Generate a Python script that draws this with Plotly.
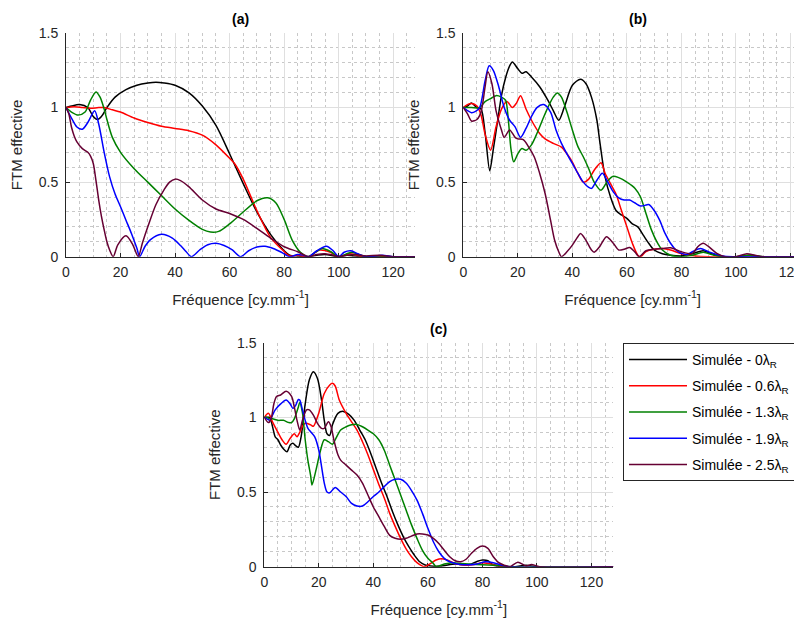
import plotly.graph_objects as go

# ---------------- data ----------------
xticks = [0, 20, 40, 60, 80, 100, 120]
yticks = [0, 0.5, 1, 1.5]
yticktext = ["0", "0.5", "1", "1.5"]
series_names = ["Simulée - 0λ<sub>R</sub>", "Simulée - 0.6λ<sub>R</sub>", "Simulée - 1.3λ<sub>R</sub>",
                "Simulée - 1.9λ<sub>R</sub>", "Simulée - 2.5λ<sub>R</sub>"]
series_colors = ["#000000", "#ff0000", "#008000", "#0000ff", "#660033"]
panel_titles = ["(a)", "(b)", "(c)"]

# panel (a)
a_k_x = [0,2,5,8,10,11.5,13,15,18,22,26,30,33,36,40,45,50,55,60,65,70,75,80,82,85,88.5,92,95,100,103,106,110,115,120,128]
a_k_y = [1,1.01,1.02,1.0,0.94,0.92,0.94,1.0,1.07,1.12,1.15,1.165,1.17,1.165,1.15,1.10,1.01,0.88,0.69,0.49,0.30,0.15,0.04,0.01,0.005,0,0.01,0.015,0,0.01,0.005,0,0.005,0,0]
a_r_x = [0,3,6,9,12,14,17,20,25,30,35,40,45,50,55,60,62,65,70,75,80,82,85,89,93,97,100,104,108,112,128]
a_r_y = [1,1.005,1.0,0.995,1.0,1.0,0.985,0.97,0.93,0.90,0.875,0.86,0.845,0.815,0.75,0.66,0.62,0.52,0.31,0.13,0.035,0.005,0.01,0,0.045,0.03,0,0.02,0.005,0,0]
a_g_x = [0,2,4.5,7,9,11,12.5,14,15,17,20,25,30,35,40,45,50,53,56,60,65,70,74,77,80,83,86,89,91.5,94,97,100,103,105,108,111,128]
a_g_y = [1,0.97,0.95,0.97,1.05,1.105,1.07,0.99,0.92,0.80,0.70,0.59,0.50,0.41,0.32,0.245,0.183,0.165,0.17,0.22,0.30,0.375,0.395,0.36,0.25,0.11,0.03,0,0.03,0.055,0.035,0,0.02,0.03,0.01,0,0]
a_b_x = [0,2,4,6,8,10.5,12,14,16,18,20,22,24,26,27,29,31,35,39,42,44,46,49,52,55,58,61,64,67,70,73,76,79,82,85,87,89,92,95.5,98,100,102,104.5,107,110,116,120,128]
a_b_y = [1,0.93,0.87,0.855,0.9,0.978,0.89,0.70,0.535,0.42,0.335,0.245,0.156,0.056,0,0.07,0.115,0.15,0.125,0.075,0.035,0,0.045,0.08,0.09,0.075,0.045,0,0.04,0.065,0.07,0.055,0.03,0,0.015,0.01,0,0.04,0.07,0.04,0,0.03,0.04,0.02,0,0.01,0,0]
a_p_x = [0,1,2,3,4,6,8,9,10,11,12,13,14,15,16,17.3,19,22,24.5,26.5,28,30,33,36,38,40,42,45,50,55,60,65,70,75,80,85,89,92,95,98,100,103,106,110,115,120,128]
a_p_y = [1,0.96,0.87,0.81,0.77,0.725,0.70,0.675,0.625,0.51,0.38,0.27,0.18,0.10,0.045,0,0.08,0.14,0.08,0,0.09,0.20,0.35,0.45,0.50,0.52,0.51,0.47,0.38,0.32,0.29,0.25,0.19,0.125,0.067,0.033,0,0.015,0.02,0.01,0,0.01,0.015,0.005,0.01,0,0]

# panel (b)
b_k_x = [0,1.5,3,5,6.5,8,9.7,11,12.5,14,15.5,17,18,20,21.5,23,25,28,31,33,35,37,40,43,45,47,49,50,52,54,56,58,60,62,64,66,68,70,73,76,80,84,88,91,95,100,105,110,128]
b_k_y = [1,1.01,1.03,1.0,0.99,0.83,0.576,0.72,0.9,1.08,1.2,1.28,1.306,1.26,1.23,1.24,1.205,1.14,1.05,0.98,0.915,1.0,1.15,1.19,1.16,1.07,0.915,0.78,0.535,0.40,0.31,0.28,0.257,0.22,0.20,0.145,0.09,0.045,0.02,0.01,0.005,0.02,0.04,0.02,0.0,0.0,0.01,0,0]
b_r_x = [0,1.5,3,5,6.5,8,10,12,14,16,18,19.5,21,23,25,28,30,33,36,38,40,42,44,46,48,50.5,52,54,56,58,60,62,64,65,67,70,73,76,80,85,90,128]
b_r_y = [1,1.02,1.027,1.01,0.95,0.82,0.714,0.87,0.99,1.04,1.0,1.03,1.08,0.99,0.915,0.826,0.79,0.76,0.735,0.69,0.635,0.56,0.50,0.52,0.58,0.63,0.56,0.49,0.42,0.31,0.20,0.09,0.01,0,0.035,0.05,0.055,0.045,0.02,0.005,0,0]
b_g_x = [0,3,6,8,10,12,14,15.5,16.5,17.5,18.5,20,21.5,23,25,27,29,31,33,34.5,36,38,40,42,44,46,48,50.5,53,55,57,60,63,65,67,69,71,73,76,80,84,88,92,96,100,105,110,128]
b_g_y = [1,1.0,1.0,1.04,1.06,1.08,1.07,1.05,0.92,0.72,0.636,0.69,0.725,0.714,0.75,0.826,0.915,1.0,1.07,1.098,1.07,0.97,0.85,0.74,0.67,0.59,0.50,0.446,0.51,0.54,0.53,0.50,0.458,0.40,0.29,0.18,0.10,0.045,0.01,0.0,0.01,0.03,0.01,0,0,0.01,0,0]
b_b_x = [0,1.5,3,4.5,6,8,9.5,11,13,15,17,19,21,23,25,27,29.5,32,34,36,38,40,42,44,46,47,49,51,53,55,57,59,61,63,65,67,68,70,72,74,76,78,80,82,84,87,90,95,100,128]
b_b_y = [1,0.98,0.966,0.975,1.0,1.18,1.28,1.25,1.14,1.0,0.915,0.87,0.80,0.86,0.94,1.0,1.02,0.97,0.85,0.76,0.69,0.625,0.56,0.50,0.465,0.458,0.513,0.56,0.50,0.435,0.395,0.38,0.38,0.36,0.34,0.346,0.35,0.31,0.245,0.156,0.09,0.045,0.022,0.015,0.033,0.055,0.033,0.005,0,0]
b_p_x = [0,1.5,3,5,6.5,8,9,10.5,12,14,15,17,19,20,22,24,26,28,30,32,33.5,35,36,38,40,42,43,45,47,48,50,52.5,55,57,59,61,63,64.5,67,70,73,76,80,84,86,88,90,93,96,100,104,107,110,128]
b_p_y = [1,0.96,0.91,0.92,0.97,1.14,1.24,1.16,0.98,0.85,0.80,0.85,0.80,0.79,0.785,0.735,0.67,0.56,0.424,0.245,0.11,0.033,0,0.033,0.078,0.134,0.156,0.11,0.045,0.03,0.067,0.134,0.09,0.045,0.05,0.062,0.03,0,0.04,0.05,0.055,0.06,0.033,0.022,0.067,0.09,0.067,0.022,0,0,0.02,0.01,0,0]

# panel (c)
c_k_x = [0,1,2,3,4,5,6,7,8.3,9.5,10.5,11.5,12.5,13.5,15,16.5,18,19.5,21,22,23,24,25,27,29,31,33,35,37,39,41,43,45,47,49,51,53,55,57,59,61,65,70,75,78,80,82,84,88,92,96,100,128]
c_k_y = [1,1.0,1.0,0.94,0.87,0.85,0.815,0.79,0.77,0.815,0.826,0.81,0.80,0.87,1.09,1.25,1.306,1.26,1.116,0.98,0.89,0.88,0.95,1.027,1.04,1.02,0.98,0.915,0.85,0.76,0.66,0.56,0.47,0.37,0.28,0.20,0.134,0.078,0.033,0.011,0.005,0.005,0.018,0.013,0.035,0.045,0.04,0.01,0,0,0.01,0,0]
c_r_x = [0,1.5,3,5,6.5,8,9.5,11,12,13,14,15,17,18,20,22,24,25,26,27.5,30,32,34,36,38,40,42,44,46,48,50,52,54,56,58,59,61,63,65,67,70,74,77,80,83,88,128]
c_r_y = [1,1.027,0.97,0.90,0.85,0.82,0.86,0.89,0.87,0.90,0.94,0.96,0.95,0.94,1.03,1.16,1.217,1.228,1.21,1.116,1.027,0.97,0.915,0.837,0.75,0.65,0.55,0.46,0.357,0.27,0.19,0.12,0.067,0.027,0.004,0,0.022,0.045,0.054,0.045,0.022,0.01,0.015,0.027,0.018,0,0]
c_g_x = [0,1,2,3,5,7,9,10,11,12.5,13,14,15,16,17,17.5,19,20.5,22,23.5,25,26,28,30,32,34,36,38,40,42,44,46,48,50,52,54,56,58,60,62,63,66,69,72,75,80,85,90,128]
c_g_y = [1,1.0,0.99,0.99,0.98,0.98,0.965,0.965,0.99,1.07,1.10,1.03,0.85,0.71,0.61,0.547,0.65,0.77,0.85,0.837,0.82,0.85,0.915,0.937,0.95,0.953,0.937,0.915,0.89,0.85,0.78,0.68,0.58,0.48,0.38,0.28,0.19,0.11,0.056,0.022,0,0.018,0.027,0.022,0.018,0.013,0.01,0,0]
c_b_x = [0,1,2,3,4,6,8,9.5,10.5,11.5,12.5,13,14,15,16,17,18.5,20,21,22,23,24,26,28,30,32,34,36,38,40,42,44,46,48,50,52,54,56,58,60,62,64,66,68,70,73,78,81,84,87,90,128]
c_b_y = [1,0.99,0.98,1.015,1.05,1.09,1.116,1.09,1.06,1.08,1.12,1.116,1.05,0.98,0.926,0.904,0.87,0.78,0.67,0.56,0.50,0.495,0.53,0.50,0.47,0.424,0.406,0.406,0.435,0.47,0.50,0.536,0.57,0.585,0.585,0.56,0.51,0.446,0.357,0.257,0.167,0.10,0.056,0.033,0.022,0.013,0.018,0.033,0.027,0.01,0,0]
c_p_x = [0,1.5,2.5,3.5,4.5,6,8,10,11,12,13,14,15.5,16.5,18,19.5,21,22,23.5,24.5,25.5,27,28,30,32,34,36,38,40,42,44,46,48,50,52,54,56,58,60,62,64,66,68,70,72,74,76,78,80,82,84,86,88,90,93,96,98,101,128]
c_p_y = [1,0.965,0.99,1.09,1.14,1.15,1.175,1.14,1.07,0.98,0.915,0.98,1.05,1.05,1.015,0.96,0.926,0.926,0.97,0.937,0.85,0.75,0.714,0.68,0.647,0.614,0.56,0.48,0.40,0.335,0.27,0.21,0.19,0.183,0.19,0.205,0.219,0.219,0.212,0.19,0.156,0.11,0.067,0.04,0.033,0.05,0.09,0.123,0.138,0.123,0.067,0.027,0.01,0,0.03,0.005,0.015,0,0]

panels = [
    [(a_k_x, a_k_y), (a_r_x, a_r_y), (a_g_x, a_g_y), (a_b_x, a_b_y), (a_p_x, a_p_y)],
    [(b_k_x, b_k_y), (b_r_x, b_r_y), (b_g_x, b_g_y), (b_b_x, b_b_y), (b_p_x, b_p_y)],
    [(c_k_x, c_k_y), (c_r_x, c_r_y), (c_g_x, c_g_y), (c_b_x, c_b_y), (c_p_x, c_p_y)],
]

# ---------------- layout geometry (screen pixels of the reference) ----------------
W, H = 802, 622
OFF = 8  # the page body margin shifts the figure by 8 px right and down
px_per_unit = (415 - 66) / 128.0
boxes = [  # left, right, top, bottom in screen pixels
    (66, 415, 33, 256.7),
    (463.3, 802, 33, 256.7),
    (264.3, 613.3, 342.7, 566.7),
]
FONT = "Liberation Sans, Arial, sans-serif"
TXT = "#262626"


def fx(px):
    return (px - OFF) / W


def fy(py):
    return (H - (py - OFF)) / H


fig = go.Figure()
for p, series in enumerate(panels):
    ax = "" if p == 0 else str(p + 1)
    for s, (xs, ys) in enumerate(series):
        fig.add_trace(go.Scatter(
            x=xs, y=ys, mode="lines", name=series_names[s], legendgroup="g%d" % s,
            line=dict(color=series_colors[s], width=1.5, shape="spline", smoothing=0.8),
            xaxis="x" + ax, yaxis="y" + ax, showlegend=(p == 2), hoverinfo="skip"))

layout = dict(width=W, height=H, margin=dict(l=0, r=0, t=0, b=0, autoexpand=False),
              paper_bgcolor="white", plot_bgcolor="white",
              font=dict(family=FONT, color=TXT, size=13), annotations=[])
for p, (l, r, t, b) in enumerate(boxes):
    ax = "" if p == 0 else str(p + 1)
    xmax = (r - l) / px_per_unit
    common = dict(showline=True, linecolor=TXT, linewidth=1, ticks="inside", ticklen=4,
                  tickcolor=TXT, tickwidth=1, showgrid=True, gridcolor="#dfdfdf", gridwidth=1,
                  zeroline=False, layer="below traces", automargin=False,
                  ticklabeloverflow="allow", tickfont=dict(size=14, color=TXT))
    layout["xaxis" + ax] = dict(common, domain=[fx(l), fx(r)], range=[0, xmax],
                                anchor="y" + ax, tickvals=xticks, ticklabelstandoff=2,
                                minor=dict(dtick=5, tick0=0, showgrid=True, gridcolor="#c8c8c8",
                                           griddash="dot", gridwidth=1, ticks=""),
                                title=dict(text="Fréquence [cy.mm<sup>-1</sup>]", font=dict(size=15),
                                           standoff=15))
    layout["yaxis" + ax] = dict(common, domain=[fy(b), fy(t)], range=[0, 1.5],
                                anchor="x" + ax, tickvals=yticks, ticktext=yticktext,
                                ticklabelstandoff=4,
                                minor=dict(dtick=0.1, tick0=0, showgrid=True, gridcolor="#c8c8c8",
                                           griddash="dot", gridwidth=1, ticks=""),
                                title=dict(text="FTM effective", font=dict(size=15), standoff=12))
    full_right = l + 128 * px_per_unit
    layout["annotations"].append(dict(
        text="<b>" + panel_titles[p] + "</b>", xref="paper", yref="paper",
        x=fx((l + full_right) / 2), y=fy(t), xanchor="center", yanchor="bottom",
        yshift=4, showarrow=False, font=dict(size=14, color="#000000")))

layout["legend"] = dict(x=fx(623), y=fy(343), xanchor="left", yanchor="top",
                        bordercolor=TXT, borderwidth=1, bgcolor="white",
                        font=dict(size=14, color="#000000"), tracegroupgap=5,
                        itemwidth=58)
fig.update_layout(**layout)
fig.write_html("out.html")
